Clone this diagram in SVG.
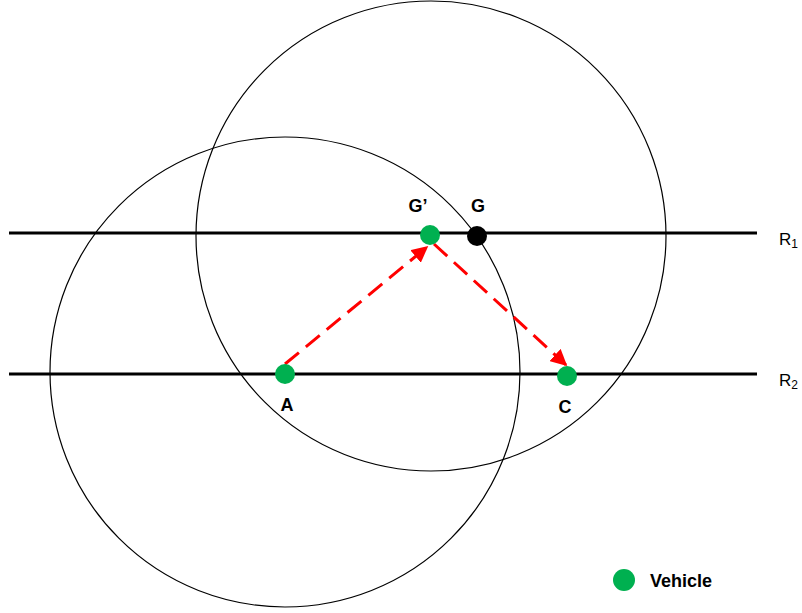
<svg xmlns="http://www.w3.org/2000/svg" width="802" height="613" viewBox="0 0 802 613">
<style>
.circ{fill:none;stroke:#000;stroke-width:1.2}
.road{stroke:#000;stroke-width:3}
.veh{fill:#00b050}
.lbl{font-family:"Liberation Sans",Arial,sans-serif;font-weight:bold;font-size:18px;fill:#000}
.rl{font-family:"Liberation Sans",Arial,sans-serif;font-size:17px;fill:#000}
.arr{stroke:#ff0000;stroke-width:3;stroke-dasharray:18,9;fill:none}
</style>
<defs>
<marker id="ah" viewBox="0 0 10 10" refX="9" refY="5" markerWidth="5.5" markerHeight="5.5" orient="auto" markerUnits="strokeWidth">
<path d="M0,0 L10,5 L0,10 z" fill="#ff0000"/>
</marker>
</defs>
<g id="circles">
<circle class="circ" cx="285" cy="372" r="235"/>
<circle class="circ" cx="431" cy="236" r="235"/>
</g>
<g id="roads">
<line class="road" x1="9" y1="233" x2="757" y2="233"/>
<line class="road" x1="9" y1="374" x2="757" y2="374"/>
<text class="rl" x="779" y="245">R<tspan font-size="12" dy="3">1</tspan></text>
<text class="rl" x="779" y="386">R<tspan font-size="12" dy="3">2</tspan></text>
</g>
<g id="connectors">
<line class="arr" x1="285" y1="364" x2="427" y2="247" marker-end="url(#ah)"/>
<line class="arr" x1="434" y1="244" x2="566" y2="365" marker-end="url(#ah)"/>
</g>
<g id="node-Gp">
<circle class="veh" cx="430" cy="235" r="10"/>
<text class="lbl" x="418" y="212" text-anchor="middle">G’</text>
</g>
<g id="node-G">
<circle cx="477" cy="236" r="10" fill="#000"/>
<text class="lbl" x="478" y="212" text-anchor="middle">G</text>
</g>
<g id="node-A">
<circle class="veh" cx="285" cy="374" r="10"/>
<text class="lbl" x="287" y="411" text-anchor="middle">A</text>
</g>
<g id="node-C">
<circle class="veh" cx="567" cy="376" r="10"/>
<text class="lbl" x="565" y="413" text-anchor="middle">C</text>
</g>
<g id="legend">
<circle class="veh" cx="624" cy="580" r="11"/>
<text class="lbl" x="650" y="587" font-size="16">Vehicle</text>
</g>
</svg>
